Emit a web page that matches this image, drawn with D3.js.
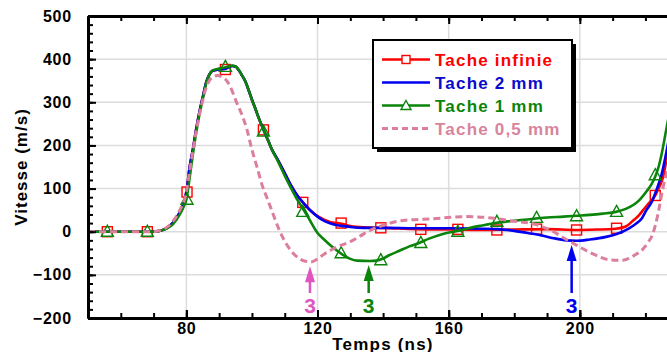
<!DOCTYPE html>
<html><head><meta charset="utf-8">
<script src="https://cdn.jsdelivr.net/npm/d3@7"></script>
<style>
html,body{margin:0;padding:0;background:#fff;}
svg{display:block;font-family:"Liberation Sans",Arial,sans-serif;font-weight:bold;}
</style></head>
<body><svg id="c" width="667" height="352"></svg>
<script>
// ---------- data ----------
const tacheInfinie = [[50,0],[60,0],[70,0],[72,2],[74,8],[76,22],[78,45],[79,62],[80,92],[81,150],[82,192],[83,238],[84,278],[85,312],[86,345],[87,364],[88,373],[90,376],[92,378],[94,384],[95,383],[96,374],[97,362],[98,348],[99,328],[100,306],[101,286],[102,265],[103,246],[104,228],[105,210],[106,192],[108,165],[110,136],[112,106],[114,82],[116,64],[118,48],[120,36],[122,28],[124,22],[126,20],[128,17],[130,13],[134,10],[140,9],[150,6],[160,5],[170,4],[180,5],[190,6],[199,4],[205,5],[211,7],[214,12],[216,24],[218,38],[219.5,52],[221,66],[223,84],[224,100],[225.4,127],[226.5,170],[228,230],[230,300]];
const tache2mm = [[50,0],[60,0],[70,0],[72,2],[74,8],[76,22],[78,45],[79,62],[80,92],[81,150],[82,192],[83,238],[84,278],[85,312],[86,345],[87,364],[88,373],[90,376],[92,378],[94,384],[95,383],[96,374],[97,362],[98,348],[99,328],[100,306],[101,286],[102,265],[103,246],[104,228],[105,210],[106,192],[108,165],[110,136],[112,106],[114,82],[116,64],[118,48],[120,35],[122,25],[124,19],[126,15],[128,13],[130,11],[134,9],[140,9],[150,8],[160,8],[170,7],[175,6],[180,2],[185,-4],[188,-8],[192,-15],[196,-20],[199,-21],[203,-18],[208,-12],[211,-6],[213,0],[215,8],[217,18],[219,32],[220.3,50],[222,70],[223,89],[224,110],[225,135],[226.5,189],[228,250],[230,320]];
const tache1mm = [[50,0],[60,0],[70,0],[72,2],[74,7],[76,18],[78,40],[79,55],[80,75],[81,125],[82,180],[83,230],[84,272],[85,308],[86,343],[87,364],[88,374],[90,378],[92,381],[94,385],[95,383],[96,375],[97,362],[98,348],[99,328],[100,306],[101,286],[102,265],[103,246],[104,228],[105,210],[106,192],[108,162],[110,130],[112,100],[114,72],[116,48],[118,22],[120,-3],[122,-18],[124,-32],[126,-44],[128,-55],[130,-63],[132,-67],[136,-68],[138,-67],[140,-62],[142,-54],[145,-44],[148,-34],[151,-26],[154,-16],[157,-8],[160,-2],[163,2],[166,8],[169,13],[172,17],[175,21],[178,24],[182,27],[186,30],[190,33],[195,35],[199,37],[203,39],[207,42],[211,46],[214,53],[216.3,62],[218,72],[220.3,93],[222,112],[223,128],[224,150],[225,182],[226.5,243],[228,300],[230,360]];
const tache05mm = [[50,0],[60,0],[70,0],[72,3],[74,10],[76,25],[78,50],[80,92],[81,140],[82,188],[83,232],[84,272],[85,305],[86,333],[87,350],[88,358],[89.5,362],[91,358],[92.5,348],[93.4,336],[95.4,298],[97,270],[98.5,236],[100,190],[101.5,151],[103.1,108],[104.6,78],[106,50],[108,10],[110,-22],[112,-45],[114,-60],[116,-68],[118,-70],[120,-63],[122,-52],[124,-43],[126,-35],[130,-23],[133,-10],[136,3],[140,15],[146,26],[155,30],[165,35],[174,31],[179,25],[186,18],[189,10],[192,0],[195,-14],[198,-27],[203,-48],[206,-58],[209,-65],[213,-66],[215,-62],[217,-53],[219,-42],[220.5,-28],[222.3,-4],[223.8,40],[225.3,100],[227,150],[230,210]];

const squareMarkers = [[55.9,0],[68.1,0],[80.2,92],[91.9,376],[103.5,236],[115.5,68],[127.2,20],[139.3,9],[151.5,5.5],[162.8,5.5],[174.7,4],[186.8,6],[199,4],[211.2,8],[223,84]];
const triangleMarkers = [[55.9,0],[68.1,0],[80.2,74],[91.9,382],[103.5,232],[115.5,46],[127.2,-50],[139.3,-66],[151.5,-26],[162.8,0],[174.7,23],[186.8,32],[199,36],[211.2,46],[223,131]];

const seriesNames = ["Tache infinie","Tache 2 mm","Tache 1 mm","Tache 0,5 mm"];
const seriesColors = ["#ff0000","#0000f0","#0a840a","#dc7f9c"];
const textColors = ["#ff0000","#0a0acc","#0a840a","#d8849c"];

const xLabelTicks = [80,120,160,200];
const xMajorTicks = [80,120,160,200,240];
const xMinorTicks = d3.range(50,241,10);
const yMajorTicks = [-200,-100,0,100,200,300,400,500];
const yMinorTicks = d3.range(-200,501,20);

const arrowTimes = [117.7,135.6,197.5];
const arrowTips = [-80,-77,-31];
const arrowBase = -142;
const arrowLabelV = -172;
const arrowLabels = ["3","3","3"];
const arrowColors = ["#e055c0","#0a840a","#0000f0"];

// ---------- layout ----------
const svg = d3.select("#c");
const L = 88, R = 711, T = 16, B = 318;
const x = d3.scaleLinear().domain([50,240]).range([L,R]);
const y = d3.scaleLinear().domain([-200,500]).range([B,T]);

// grid
const grid = svg.append("g").attr("stroke","#dcdcdc").attr("stroke-width",1.5);
grid.selectAll("line.h").data([-100,0,100,200,300,400]).join("line")
  .attr("x1",L).attr("x2",R).attr("y1",d=>y(d)).attr("y2",d=>y(d));
grid.selectAll("line.v").data([80,120,160,200]).join("line")
  .attr("y1",T).attr("y2",B).attr("x1",d=>x(d)).attr("x2",d=>x(d));

// clip
svg.append("clipPath").attr("id","clip").append("rect")
  .attr("x",L).attr("y",T).attr("width",R-L).attr("height",B-T);
const plot = svg.append("g").attr("clip-path","url(#clip)");

const line = d3.line().x(d=>x(d[0])).y(d=>y(d[1])).curve(d3.curveMonotoneX);
const allSeries = [tacheInfinie,tache2mm,tache1mm,tache05mm];
allSeries.forEach((s,i)=>{
  const p = plot.append("path").datum(s).attr("d",line).attr("fill","none")
    .attr("stroke",seriesColors[i]).attr("stroke-width", i===3?3:2.6)
    .attr("stroke-linejoin","round");
  if(i===3) p.attr("stroke-dasharray","7,4");
  if(i===0){
    plot.selectAll("rect.sq").data(squareMarkers).join("rect").attr("class","sq")
      .attr("x",d=>x(d[0])-5).attr("y",d=>y(d[1])-5).attr("width",10).attr("height",10)
      .attr("fill","none").attr("stroke",seriesColors[0]).attr("stroke-width",1.4);
  }
  if(i===2){
    plot.selectAll("path.tri").data(triangleMarkers).join("path").attr("class","tri")
      .attr("transform",d=>`translate(${x(d[0])},${y(d[1])})`)
      .attr("d","M0,-6.5L6,4.5L-6,4.5Z")
      .attr("fill","none").attr("stroke",seriesColors[2]).attr("stroke-width",1.4);
  }
});

// axes
function styleAxis(g,w){
  g.select(".domain").attr("stroke","#000").attr("stroke-width",w);
  g.selectAll(".tick line").attr("stroke","#000").attr("stroke-width",2);
  g.selectAll(".tick text").attr("fill","#000").style("font-size","16px")
    .style("font-weight","bold").style("letter-spacing","0.8px").style("font-family","'Liberation Sans',Arial,sans-serif");
}
const yAx = svg.append("g").attr("transform",`translate(${L},0)`)
  .call(d3.axisLeft(y).tickValues(yMajorTicks).tickSizeInner(-8).tickSizeOuter(0).tickPadding(16));
styleAxis(yAx,3);
const yAxMin = svg.append("g").attr("transform",`translate(${L},0)`)
  .call(d3.axisLeft(y).tickValues(yMinorTicks).tickSizeInner(-5).tickSizeOuter(0).tickFormat(""));
styleAxis(yAxMin,3);
const xAx = svg.append("g").attr("transform",`translate(0,${B})`)
  .call(d3.axisBottom(x).tickValues(xLabelTicks).tickSizeInner(-8).tickSizeOuter(0).tickPadding(5));
styleAxis(xAx,3);
const xAxMaj = svg.append("g").attr("transform",`translate(0,${B})`)
  .call(d3.axisBottom(x).tickValues(xMajorTicks).tickSizeInner(-8).tickSizeOuter(0).tickFormat(""));
styleAxis(xAxMaj,3);
const xAxMin = svg.append("g").attr("transform",`translate(0,${B})`)
  .call(d3.axisBottom(x).tickValues(xMinorTicks).tickSizeInner(-5).tickSizeOuter(0).tickFormat(""));
styleAxis(xAxMin,3);
const tAx = svg.append("g").attr("transform",`translate(0,${T})`)
  .call(d3.axisTop(x).tickValues(xMajorTicks).tickSizeInner(-8).tickSizeOuter(0).tickFormat(""));
styleAxis(tAx,3);
const tAxMin = svg.append("g").attr("transform",`translate(0,${T})`)
  .call(d3.axisTop(x).tickValues(xMinorTicks).tickSizeInner(-5).tickSizeOuter(0).tickFormat(""));
styleAxis(tAxMin,3);

// axis titles
svg.append("text").attr("transform",`translate(27,167) rotate(-90)`)
  .attr("text-anchor","middle").style("font-size","17px").style("letter-spacing","1px")
  .text("Vitesse (m/s)");
svg.append("text").attr("x",383).attr("y",349.5).attr("text-anchor","middle")
  .style("font-size","17px").style("letter-spacing","1.2px").text("Temps (ns)");

// arrows
arrowTimes.forEach((t,i)=>{
  const cx = x(t), tip = y(arrowTips[i]), base = y(arrowBase);
  svg.append("line").attr("x1",cx).attr("x2",cx).attr("y1",tip+10).attr("y2",base)
    .attr("stroke",arrowColors[i]).attr("stroke-width",2.5);
  svg.append("path").attr("d",`M${cx},${tip}L${cx+5},${tip+16}L${cx-5},${tip+16}Z`)
    .attr("fill",arrowColors[i]);
  svg.append("text").attr("x",cx).attr("y",y(arrowLabelV)).attr("dy","0.36em")
    .attr("text-anchor","middle").attr("fill",arrowColors[i])
    .style("font-size","21px").text(arrowLabels[i]);
});

// legend
const lg = svg.append("g");
const lx = 373, ly = 40, lw = 199, lh = 108;
lg.append("rect").attr("x",lx+4).attr("y",ly+4).attr("width",lw).attr("height",lh).attr("fill","#000");
lg.append("rect").attr("x",lx).attr("y",ly).attr("width",lw).attr("height",lh)
  .attr("fill","#fff").attr("stroke","#000").attr("stroke-width",2);
const rowY = d3.scaleLinear().domain([0,3]).range([59.5,128.5]);
seriesNames.forEach((n,i)=>{
  const yy = rowY(i);
  const ln = lg.append("line").attr("x1",382).attr("x2",430).attr("y1",yy).attr("y2",yy)
    .attr("stroke",seriesColors[i]).attr("stroke-width",2.4);
  if(i===3) ln.attr("stroke-dasharray","6,4").attr("stroke-width",2.8);
  if(i===0) lg.append("rect").attr("x",402).attr("y",yy-4).attr("width",8).attr("height",8)
      .attr("fill","#fff").attr("stroke",seriesColors[0]).attr("stroke-width",1.4);
  if(i===2) lg.append("path").attr("transform",`translate(406,${yy})`).attr("d","M0,-5L5,4L-5,4Z")
      .attr("fill","#fff").attr("stroke",seriesColors[2]).attr("stroke-width",1.4);
  lg.append("text").attr("x",435).attr("y",yy).attr("dy","0.36em").attr("fill",textColors[i])
    .style("font-size","17px").style("letter-spacing","1.2px").text(n);
});
</script></body></html>
